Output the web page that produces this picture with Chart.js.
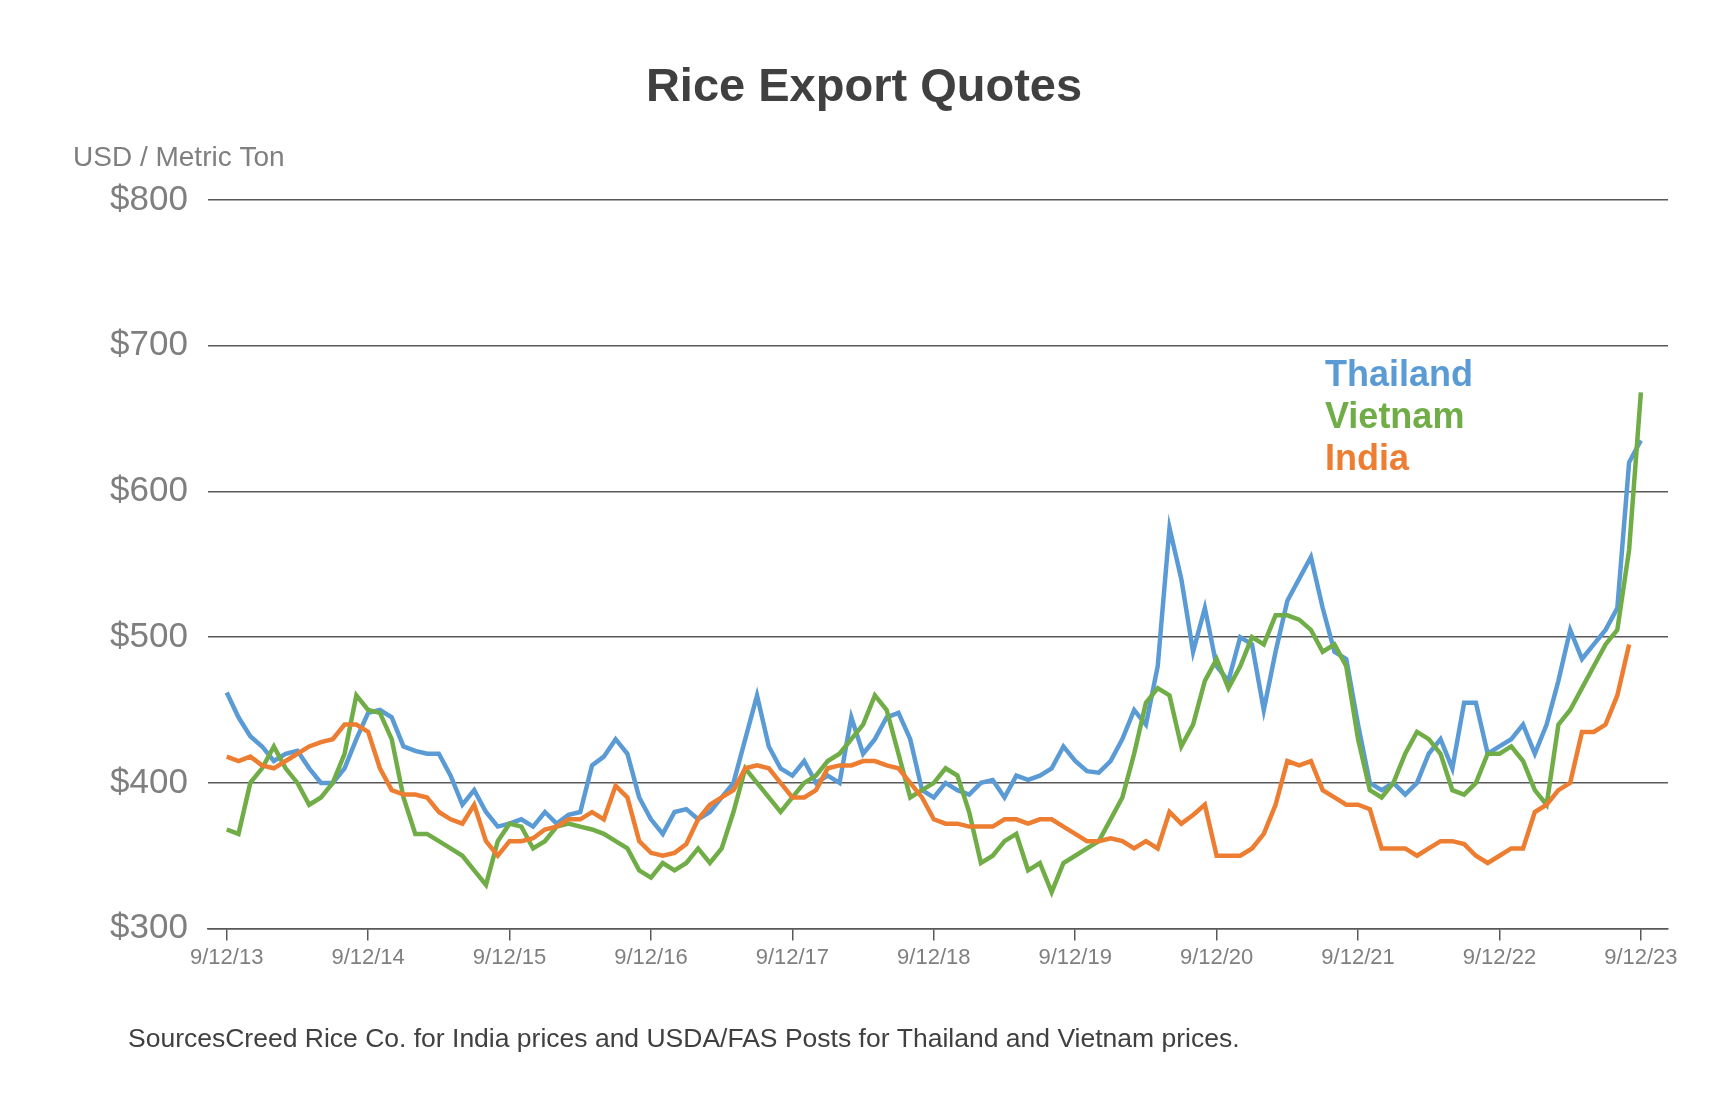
<!DOCTYPE html>
<html>
<head>
<meta charset="UTF-8">
<script src="https://cdn.jsdelivr.net/npm/chart.js"></script>
<style>
  body { margin: 0; background: #fff; }
  #wrap { width: 1721px; height: 1106px; }
</style>
</head>
<body>
<div id="wrap"><canvas id="c" width="1721" height="1106"></canvas></div>
<script>
// monthly values, Sep 2013 .. Sep 2023
const thailand = [
  462, 445, 432, 425,
  415, 420, 422, 410, 400, 400, 410, 430, 448, 450, 445, 425,
  422, 420, 420, 405, 385, 395, 380, 370, 372, 375, 370, 380,
  372, 378, 380, 412, 418, 430, 420, 390, 375, 365, 380, 382,
  375, 380, 390, 400, 430, 460, 425, 410, 405, 415, 400, 405,
  400, 445, 420, 430, 445, 448, 430, 395, 390, 400, 395, 392,
  400, 402, 390, 405, 402, 405, 410, 425, 415, 408, 407, 415,
  430, 450, 440, 480, 575, 540, 490, 520, 480, 470, 500, 495,
  450, 490, 525, 540, 555, 520, 490, 485, 440, 400, 395, 400,
  392, 400, 420, 430, 410, 455, 455, 420, 425, 430, 440, 420,
  440, 470, 505, 485, 495, 505, 520, 620, 635
];
const vietnam = [
  368, 365, 400, 410,
  425, 410, 400, 385, 390, 400, 420, 460, 450, 448, 430, 390,
  365, 365, 360, 355, 350, 340, 330, 360, 372, 370, 355, 360,
  370, 372, 370, 368, 365, 360, 355, 340, 335, 345, 340, 345,
  355, 345, 355, 380, 410, 400, 390, 380, 390, 400, 405, 415,
  420, 430, 440, 460, 450, 420, 390, 395, 400, 410, 405, 380,
  345, 350, 360, 365, 340, 345, 325, 345, 350, 355, 360, 375,
  390, 420, 455, 465, 460, 425, 440, 470, 485, 465, 480, 500,
  495, 515, 515, 512, 505, 490, 495, 480, 430, 395, 390, 400,
  420, 435, 430, 420, 395, 392, 400, 420, 420, 425, 415, 395,
  385, 440, 450, 465, 480, 495, 505, 560, 668
];
const india = [
  418, 415, 418, 412,
  410, 415, 420, 425, 428, 430, 440, 440, 435, 410, 395, 392,
  392, 390, 380, 375, 372, 385, 360, 350, 360, 360, 362, 368,
  370, 375, 375, 380, 375, 398, 390, 360, 352, 350, 352, 358,
  375, 385, 390, 395, 410, 412, 410, 400, 390, 390, 395, 410,
  412, 412, 415, 415, 412, 410, 400, 390, 375, 372, 372, 370,
  370, 370, 375, 375, 372, 375, 375, 370, 365, 360, 360, 362,
  360, 355, 360, 355, 380, 372, 378, 385, 350, 350, 350, 355,
  365, 385, 415, 412, 415, 395, 390, 385, 385, 382, 355, 355,
  355, 350, 355, 360, 360, 358, 350, 345, 350, 355, 355, 380,
  385, 395, 400, 435, 435, 440, 460, 495, null
];
const tickLabels = ['9/12/13', '9/12/14', '9/12/15', '9/12/16', '9/12/17', '9/12/18',
  '9/12/19', '9/12/20', '9/12/21', '9/12/22', '9/12/23'];

const toPoints = arr => arr.map((v, i) => ({ x: i, y: v }));

const textPlugin = {
  id: 'texts',
  afterDraw(chart) {
    const ctx = chart.ctx;
    ctx.save();
    ctx.textBaseline = 'middle';
    ctx.fillStyle = '#404040';
    ctx.font = 'bold 47px Arial, "Liberation Sans", sans-serif';
    ctx.textAlign = 'center';
    ctx.fillText('Rice Export Quotes', 864, 88);
    ctx.textAlign = 'left';
    ctx.fillStyle = '#7f7f7f';
    ctx.font = '28px Arial, "Liberation Sans", sans-serif';
    ctx.fillText('USD / Metric Ton', 73, 158);
    ctx.font = 'bold 36px Arial, "Liberation Sans", sans-serif';
    ctx.fillStyle = '#5b9bd5';
    ctx.fillText('Thailand', 1325, 376);
    ctx.fillStyle = '#70ad47';
    ctx.fillText('Vietnam', 1325, 418);
    ctx.fillStyle = '#ed7d31';
    ctx.fillText('India', 1325, 460);
    ctx.fillStyle = '#404040';
    ctx.font = '26.5px Arial, "Liberation Sans", sans-serif';
    ctx.fillText('SourcesCreed Rice Co. for India prices and USDA/FAS Posts for Thailand and Vietnam prices.', 128, 1040);
    ctx.restore();
  }
};

new Chart(document.getElementById('c'), {
  type: 'line',
  data: {
    datasets: [
      { label: 'India', data: toPoints(india), borderColor: '#ed7d31' },
      { label: 'Vietnam', data: toPoints(vietnam), borderColor: '#70ad47' },
      { label: 'Thailand', data: toPoints(thailand), borderColor: '#5b9bd5' }
    ]
  },
  options: {
    responsive: false,
    animation: false,
    layout: { padding: { top: 200, left: 90, right: 53, bottom: 131 } },
    elements: { point: { radius: 0 }, line: { borderWidth: 4.5, tension: 0 } },
    plugins: { legend: { display: false }, tooltip: { enabled: false } },
    scales: {
      x: {
        type: 'linear', min: -1.6, max: 122.3,
        afterBuildTicks: axis => { axis.ticks = tickLabels.map((_, i) => ({ value: i * 12 })); },
        ticks: {
          callback: (v) => tickLabels[v / 12],
          color: '#7f7f7f', font: { size: 22, family: 'Arial, "Liberation Sans", sans-serif' },
          maxRotation: 0, autoSkip: false, padding: 4
        },
        grid: { drawOnChartArea: false, tickLength: 12, color: '#595959', lineWidth: 1.5 },
        border: { color: '#595959', width: 1.5 }
      },
      y: {
        min: 300, max: 800,
        ticks: {
          stepSize: 100, callback: v => '$' + v,
          color: '#7f7f7f', font: { size: 35, family: 'Arial, "Liberation Sans", sans-serif' }, padding: 20
        },
        grid: { color: '#595959', lineWidth: 1.5, drawTicks: false },
        border: { display: false }
      }
    }
  },
  plugins: [textPlugin]
});
</script>
</body>
</html>
